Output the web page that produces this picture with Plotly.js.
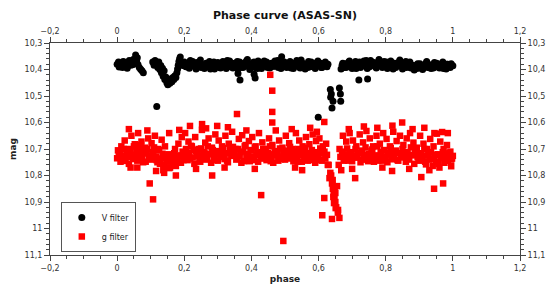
<!DOCTYPE html>
<html>
<head>
<meta charset="utf-8">
<script src="https://cdn.plot.ly/plotly-3.0.1.min.js"></script>
<style>html,body{margin:0;padding:0;background:#fff;}#chart{width:549px;height:292px;}</style>
</head>
<body>
<div id="chart"></div>
<script>
// ---- V filter (black circles) ----
const vPhase = [
0.000,0.004,0.006,0.008,0.012,0.016,0.018,0.020,0.024,0.028,0.030,0.032,0.036,0.040,0.044,0.046,0.048,0.052,0.055,0.058,0.060,0.062,0.066,0.070,0.074,0.078,
0.106,0.110,0.113,0.116,0.118,0.121,0.124,0.127,0.130,0.132,0.135,0.137,0.140,0.142,0.145,0.148,0.151,0.154,0.157,0.160,0.163,0.166,0.169,0.172,0.175,0.178,0.180,0.182,0.184,0.186,0.188,0.191,
0.195,0.200,0.205,0.210,0.215,0.220,0.225,0.230,0.235,0.240,0.245,0.250,0.255,0.260,0.265,0.270,0.275,0.280,0.285,0.290,0.295,0.300,0.305,0.310,0.315,0.320,0.325,0.330,0.335,0.340,0.345,0.350,0.355,0.360,0.365,0.370,0.375,0.380,0.385,0.390,0.395,0.400,0.405,0.410,0.415,0.420,0.425,0.430,0.435,0.440,0.445,0.450,0.455,0.460,0.465,0.470,0.475,0.480,0.485,0.490,0.495,0.500,0.505,0.510,0.515,0.520,0.525,0.530,0.535,0.540,0.545,0.550,0.555,0.560,0.565,0.570,0.575,0.580,0.585,0.590,0.595,0.600,0.605,0.610,0.615,0.620,0.625,0.628,
0.198,0.208,0.218,0.228,0.238,0.248,0.258,0.268,0.278,0.288,0.298,0.308,0.318,0.328,0.338,0.348,0.358,0.368,0.378,0.388,0.398,0.408,0.418,0.428,0.438,0.448,0.458,0.468,0.478,0.488,0.498,0.508,0.518,0.528,0.538,0.548,0.558,0.568,0.578,0.588,0.598,0.608,0.618,
0.360,0.366,0.408,0.411,
0.599,0.635,0.638,0.636,0.640,0.643,0.662,0.665,0.666,0.720,0.746,
0.667,0.670,0.675,0.680,0.685,0.690,0.695,0.700,0.705,0.710,0.715,0.720,0.725,0.730,0.735,0.740,0.745,0.750,0.755,0.760,0.765,0.770,0.775,0.780,0.785,0.790,0.795,0.800,0.805,0.810,0.815,0.820,0.825,0.830,0.835,0.840,0.845,0.850,0.855,0.860,0.865,0.870,0.875,0.880,0.885,0.890,0.895,0.900,0.905,0.910,0.915,0.920,0.925,0.930,0.935,0.940,0.945,0.950,0.955,0.960,0.965,0.970,0.975,0.980,0.985,0.990,0.995,1.000,
0.672,0.682,0.692,0.702,0.712,0.722,0.732,0.742,0.752,0.762,0.772,0.782,0.792,0.802,0.812,0.822,0.832,0.842,0.852,0.862,0.872,0.882,0.892,0.902,0.912,0.922,0.932,0.942,0.952,0.962,0.972,0.982,0.992
];
const vMag = [
10.380,10.372,10.391,10.386,10.376,10.392,10.370,10.381,10.373,10.389,10.395,10.378,10.366,10.384,10.372,10.382,10.362,10.376,10.345,10.368,10.356,10.381,10.392,10.399,10.405,10.412,
10.372,10.384,10.366,10.378,10.540,10.392,10.372,10.400,10.385,10.412,10.395,10.425,10.405,10.438,10.428,10.450,10.458,10.444,10.452,10.436,10.446,10.430,10.438,10.424,10.430,10.412,10.398,10.384,10.370,10.360,10.353,10.372,
10.385,10.372,10.390,10.378,10.395,10.382,10.370,10.388,10.398,10.380,10.372,10.392,10.384,10.396,10.376,10.388,10.370,10.392,10.380,10.398,10.386,10.374,10.392,10.382,10.370,10.388,10.396,10.378,10.368,10.384,10.394,10.376,10.386,10.398,10.372,10.382,10.392,10.378,10.368,10.388,10.400,10.384,10.374,10.392,10.380,10.368,10.386,10.396,10.378,10.388,10.372,10.384,10.394,10.376,10.388,10.368,10.380,10.392,10.374,10.352,10.384,10.376,10.392,10.380,10.370,10.386,10.396,10.378,10.366,10.384,10.394,10.374,10.386,10.398,10.380,10.370,10.390,10.378,10.388,10.396,10.374,10.386,10.376,10.392,10.382,10.372,10.390,10.380,
10.376,10.390,10.366,10.384,10.374,10.364,10.388,10.378,10.398,10.372,10.384,10.394,10.376,10.366,10.390,10.380,10.370,10.392,10.376,10.362,10.384,10.372,10.396,10.380,10.368,10.392,10.378,10.388,10.366,10.396,10.372,10.386,10.394,10.376,10.388,10.364,10.380,10.392,10.372,10.384,10.368,10.392,10.376,
10.415,10.440,10.418,10.432,
10.580,10.475,10.492,10.505,10.545,10.520,10.470,10.492,10.520,10.440,10.436,
10.398,10.384,10.392,10.378,10.388,10.372,10.386,10.396,10.380,10.370,10.388,10.378,10.392,10.382,10.368,10.386,10.396,10.376,10.366,10.384,10.374,10.390,10.380,10.362,10.376,10.392,10.370,10.384,10.396,10.378,10.368,10.386,10.376,10.392,10.382,10.372,10.386,10.398,10.380,10.370,10.388,10.378,10.394,10.384,10.402,10.390,10.378,10.394,10.384,10.400,10.388,10.376,10.392,10.382,10.396,10.386,10.374,10.390,10.380,10.394,10.384,10.372,10.388,10.398,10.380,10.390,10.378,10.386,
10.376,10.392,10.368,10.384,10.396,10.372,10.386,10.366,10.390,10.378,10.394,10.370,10.382,10.372,10.388,10.398,10.376,10.364,10.384,10.392,10.372,10.386,10.396,10.378,10.390,10.370,10.384,10.394,10.376,10.388,10.396,10.380,10.392
];

// ---- g filter (red squares) ----
const gPhase = [
0.000,0.005,0.010,0.015,0.020,0.025,0.030,0.035,0.040,0.045,0.050,0.055,0.060,0.065,0.070,0.075,0.080,0.085,0.090,0.095,
0.100,0.105,0.110,0.115,0.120,0.125,0.130,0.135,0.140,0.145,0.150,0.155,0.160,0.165,0.170,0.175,0.180,0.185,0.190,0.195,
0.200,0.205,0.210,0.215,0.220,0.225,0.230,0.235,0.240,0.245,0.250,0.255,0.260,0.265,0.270,0.275,0.280,0.285,0.290,0.295,
0.300,0.305,0.310,0.315,0.320,0.325,0.330,0.335,0.340,0.345,0.350,0.355,0.360,0.365,0.370,0.375,0.380,0.385,0.390,0.395,
0.400,0.405,0.410,0.415,0.420,0.425,0.430,0.435,0.440,0.445,0.450,0.455,0.460,0.465,0.470,0.475,0.480,0.485,0.490,0.495,
0.500,0.505,0.510,0.515,0.520,0.525,0.530,0.535,0.540,0.545,0.550,0.555,0.560,0.565,0.570,0.575,0.580,0.585,0.590,0.595,
0.600,0.605,0.610,0.615,0.620,0.625,0.630,0.635,0.640,0.645,0.650,0.655,0.660,0.665,0.670,0.675,0.680,0.685,0.690,0.695,
0.700,0.705,0.710,0.715,0.720,0.725,0.730,0.735,0.740,0.745,0.750,0.755,0.760,0.765,0.770,0.775,0.780,0.785,0.790,0.795,
0.800,0.805,0.810,0.815,0.820,0.825,0.830,0.835,0.840,0.845,0.850,0.855,0.860,0.865,0.870,0.875,0.880,0.885,0.890,0.895,
0.900,0.905,0.910,0.915,0.920,0.925,0.930,0.935,0.940,0.945,0.950,0.955,0.960,0.965,0.970,0.975,0.980,0.985,0.990,0.995,1.000,
0.0025,0.0125,0.0225,0.0325,0.0425,0.0525,0.0625,0.0725,0.0825,0.0925,0.1025,0.1125,0.1225,0.1325,0.1425,0.1525,0.1625,0.1725,0.1825,0.1925,
0.2025,0.2125,0.2225,0.2325,0.2425,0.2525,0.2625,0.2725,0.2825,0.2925,0.3025,0.3125,0.3225,0.3325,0.3425,0.3525,0.3625,0.3725,0.3825,0.3925,
0.4025,0.4125,0.4225,0.4325,0.4425,0.4525,0.4625,0.4725,0.4825,0.4925,0.5025,0.5125,0.5225,0.5325,0.5425,0.5525,0.5625,0.5725,0.5825,0.5925,
0.6025,0.6125,0.6225,0.6325,0.6425,0.6525,0.6625,0.6725,0.6825,0.6925,0.7025,0.7125,0.7225,0.7325,0.7425,0.7525,0.7625,0.7725,0.7825,0.7925,
0.8025,0.8125,0.8225,0.8325,0.8425,0.8525,0.8625,0.8725,0.8825,0.8925,0.9025,0.9125,0.9225,0.9325,0.9425,0.9525,0.9625,0.9725,0.9825,0.9925,
0.0075,0.0175,0.0275,0.0375,0.0475,0.0575,0.0675,0.0775,0.0875,0.0975,0.1075,0.1175,0.1275,0.1375,0.1475,0.1575,0.1675,0.1775,0.1875,0.1975,
0.2075,0.2175,0.2275,0.2375,0.2475,0.2575,0.2675,0.2775,0.2875,0.2975,0.3075,0.3175,0.3275,0.3375,0.3475,0.3575,0.3675,0.3775,0.3875,0.3975,
0.4075,0.4175,0.4275,0.4375,0.4475,0.4575,0.4675,0.4775,0.4875,0.4975,0.5075,0.5175,0.5275,0.5375,0.5475,0.5575,0.5675,0.5775,0.5875,0.5975,
0.6075,0.6175,0.6275,0.6375,0.6475,0.6575,0.6675,0.6775,0.6875,0.6975,0.7075,0.7175,0.7275,0.7375,0.7475,0.7575,0.7675,0.7775,0.7875,0.7975,
0.8075,0.8175,0.8275,0.8375,0.8475,0.8575,0.8675,0.8775,0.8875,0.8975,0.9075,0.9175,0.9275,0.9375,0.9475,0.9575,0.9675,0.9775,0.9875,0.9975,
0.040,0.097,0.107,0.116,0.283,0.357,0.456,0.462,0.462,0.462,0.429,0.495,0.617,0.551,0.611,0.617,0.640,0.642,0.645,0.648,0.650,0.644,0.646,0.651,0.658,0.662,
0.709,0.819,0.906,0.944,0.971,0.849,0.968,0.945,0.217,0.253,0.298,
0.035,0.090,0.155,0.185,0.265,0.330,0.385,0.520,0.575,0.595,0.690,0.735,0.775,0.820,0.880,0.915,0.985,
0.060,0.140,0.175,0.235,0.320,0.410,0.530,0.700,0.790,0.870,0.930,0.995
];
const gMag = [
10.735,10.712,10.748,10.724,10.700,10.742,10.718,10.756,10.706,10.730,10.690,10.722,10.744,10.708,10.684,10.730,10.716,10.748,10.700,10.726,
10.740,10.712,10.694,10.728,10.750,10.704,10.736,10.718,10.760,10.726,10.744,10.772,10.732,10.756,10.716,10.764,10.740,10.724,10.752,10.710,
10.728,10.700,10.742,10.716,10.688,10.732,10.756,10.708,10.722,10.744,10.698,10.726,10.714,10.740,10.690,10.718,10.752,10.704,10.734,10.720,
10.744,10.710,10.728,10.696,10.738,10.716,10.750,10.702,10.726,10.692,10.714,10.740,10.700,10.728,10.752,10.710,10.690,10.734,10.718,10.746,
10.706,10.730,10.694,10.722,10.748,10.712,10.736,10.700,10.726,10.742,10.716,10.690,10.734,10.752,10.708,10.724,10.744,10.698,10.730,10.714,
10.740,10.706,10.728,10.692,10.720,10.746,10.710,10.736,10.700,10.724,10.748,10.714,10.696,10.732,10.718,10.742,10.704,10.728,10.752,10.712,
10.730,10.698,10.744,10.716,10.736,10.722,10.760,10.790,10.830,10.870,10.900,10.840,10.760,10.730,10.710,10.744,10.720,10.698,10.736,10.712,
10.746,10.724,10.700,10.732,10.716,10.750,10.706,10.728,10.694,10.740,10.718,10.736,10.702,10.748,10.724,10.690,10.730,10.712,10.744,10.704,
10.728,10.750,10.714,10.696,10.738,10.720,10.706,10.742,10.716,10.732,10.700,10.726,10.748,10.712,10.734,10.694,10.722,10.756,10.708,10.730,
10.744,10.716,10.736,10.700,10.758,10.724,10.740,10.712,10.764,10.730,10.748,10.720,10.770,10.734,10.712,10.752,10.728,10.744,10.716,10.740,10.726,
10.705,10.690,10.668,10.700,10.650,10.682,10.640,10.672,10.695,10.660,10.678,10.650,10.700,10.665,10.690,10.720,10.745,10.700,10.680,10.655,
10.640,10.672,10.690,10.655,10.700,10.628,10.676,10.660,10.695,10.645,10.668,10.690,10.650,10.680,10.635,10.700,10.662,10.648,10.685,10.670,
10.655,10.690,10.640,10.675,10.700,10.660,10.685,10.630,10.668,10.695,10.650,10.678,10.700,10.640,10.668,10.690,10.655,10.682,10.645,10.670,
10.660,10.690,10.680,10.810,10.850,10.920,10.700,10.650,10.672,10.640,10.668,10.690,10.645,10.675,10.632,10.660,10.690,10.650,10.680,10.640,
10.662,10.690,10.635,10.670,10.650,10.685,10.660,10.640,10.676,10.695,10.650,10.680,10.700,10.662,10.690,10.642,10.672,10.700,10.685,10.710,
10.722,10.745,10.730,10.712,10.738,10.704,10.726,10.750,10.716,10.734,10.720,10.742,10.756,10.780,10.748,10.770,10.736,10.752,10.728,10.742,
10.714,10.736,10.704,10.726,10.748,10.712,10.732,10.720,10.742,10.708,10.730,10.718,10.744,10.706,10.724,10.736,10.712,10.746,10.726,10.704,
10.742,10.716,10.734,10.708,10.728,10.746,10.720,10.712,10.738,10.724,10.714,10.736,10.722,10.748,10.706,10.730,10.744,10.716,10.734,10.720,
10.742,10.710,10.760,10.800,10.880,10.940,10.780,10.726,10.744,10.718,10.732,10.714,10.740,10.722,10.746,10.708,10.728,10.744,10.716,10.734,
10.720,10.738,10.710,10.744,10.726,10.712,10.740,10.724,10.708,10.742,10.726,10.748,10.714,10.738,10.722,10.756,10.730,10.744,10.718,10.736,
10.770,10.830,10.890,10.783,10.800,10.568,10.420,10.480,10.560,10.600,10.874,11.047,10.598,10.780,10.950,10.885,10.964,10.817,10.843,10.862,10.866,10.881,10.904,10.923,10.930,10.960,
10.810,10.783,10.806,10.850,10.830,10.600,10.636,10.640,10.613,10.606,10.613,
10.625,10.630,10.640,10.628,10.622,10.618,10.630,10.625,10.620,10.635,10.625,10.615,10.620,10.612,10.625,10.620,10.640,
10.770,10.790,10.800,10.775,10.770,10.775,10.770,10.775,10.770,10.775,10.780,10.765
];

const traces = [
  {x: vPhase, y: vMag, name: 'V filter', type: 'scatter', mode: 'markers',
   marker: {symbol: 'circle', size: 7, color: '#000000'}},
  {x: gPhase, y: gMag, name: 'g filter', type: 'scatter', mode: 'markers',
   marker: {symbol: 'square', size: 6.5, color: '#ff0000'}},
  {x: [null], y: [null], xaxis: 'x2', yaxis: 'y2', showlegend: false, hoverinfo: 'skip', type: 'scatter', mode: 'markers'}
];

const tickFont = {family: 'DejaVu Sans, sans-serif', size: 8, color: '#333'};
const axCommon = {
  showline: true, linecolor: '#444', linewidth: 1, mirror: false,
  ticks: 'outside', ticklen: 5, tickcolor: '#444', tickwidth: 1,
  showgrid: false, zeroline: false, tickfont: tickFont
};
const xCommon = Object.assign({}, axCommon, {
  range: [-0.2, 1.2], tick0: 0, dtick: 0.2,
  minor: {dtick: 0.05, ticks: 'outside', ticklen: 3, tickcolor: '#444', showgrid: false}
});
const yCommon = Object.assign({}, axCommon, {
  range: [11.1, 10.3], tick0: 10.3, dtick: 0.1,
  minor: {dtick: 0.02, ticks: 'outside', ticklen: 3, tickcolor: '#444', showgrid: false}
});

const layout = {
  width: 549, height: 292,
  margin: {l: 50, r: 29, t: 43, b: 37},
  paper_bgcolor: '#fff', plot_bgcolor: '#fff',
  separators: ', ',
  font: {family: 'DejaVu Sans, sans-serif', size: 8, color: '#333'},
  title: {text: 'Phase curve (ASAS-SN)', x: 0.519, xanchor: 'center', y: 0.948, yanchor: 'middle',
          font: {family: 'DejaVu Sans, sans-serif', size: 11, color: '#111', weight: 'bold'}},
  xaxis: Object.assign({}, xCommon, {
    title: {text: 'phase', standoff: 4, font: {family: 'DejaVu Sans, sans-serif', size: 9, color: '#222', weight: 'bold'}}
  }),
  yaxis: Object.assign({}, yCommon, {
    title: {text: 'mag', standoff: 6, font: {family: 'DejaVu Sans, sans-serif', size: 9, color: '#222', weight: 'bold'}}
  }),
  xaxis2: Object.assign({}, xCommon, {overlaying: 'x', side: 'top', anchor: 'y2'}),
  yaxis2: Object.assign({}, yCommon, {overlaying: 'y', side: 'right', anchor: 'x2'}),
  showlegend: true,
  legend: {x: 0.023, y: 0.25, xanchor: 'left', yanchor: 'top',
           bgcolor: '#fff', bordercolor: '#555', borderwidth: 1,
           font: {family: 'DejaVu Sans, sans-serif', size: 8, color: '#222'},
           tracegroupgap: 0, itemwidth: 30}
};

Plotly.newPlot('chart', traces, layout, {displayModeBar: false, staticPlot: true});
</script>
</body>
</html>
